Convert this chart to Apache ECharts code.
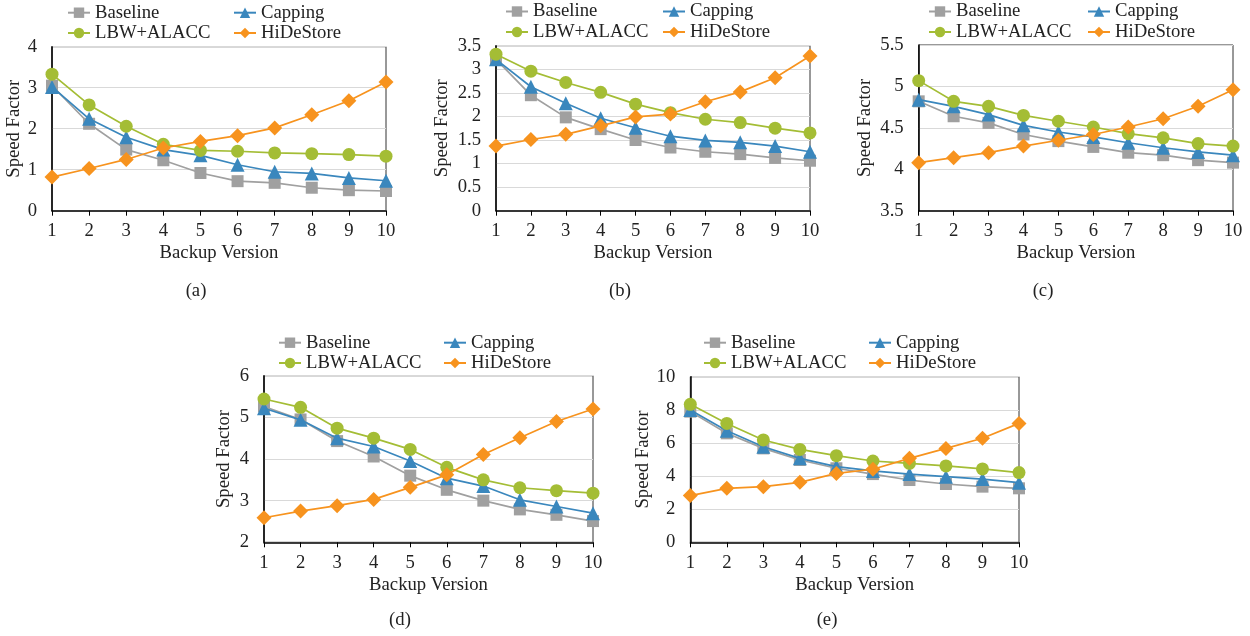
<!DOCTYPE html>
<html>
<head>
<meta charset="utf-8">
<script src="https://cdn.jsdelivr.net/npm/echarts@6/dist/echarts.min.js"></script>
<style>
  html, body { margin: 0; padding: 0; background: #fff; }
  #chart { width: 1250px; height: 636px; }
</style>
</head>
<body>
<div id="chart"></div>
<script>
// ---------------- data ----------------
const versions = ['1', '2', '3', '4', '5', '6', '7', '8', '9', '10'];
const seriesNames = ['Baseline', 'Capping', 'LBW+ALACC', 'HiDeStore'];
const panelLabels = ['(a)', '(b)', '(c)', '(d)', '(e)'];
const xAxisTitle = 'Backup Version';
const yAxisTitle = 'Speed Factor';

// (a)
const baselineA = [3.05, 2.12, 1.49, 1.23, 0.92, 0.72, 0.68, 0.56, 0.50, 0.48];
const cappingA  = [3.02, 2.24, 1.79, 1.49, 1.35, 1.12, 0.95, 0.91, 0.80, 0.73];
const lbwA      = [3.33, 2.58, 2.06, 1.62, 1.47, 1.45, 1.41, 1.39, 1.37, 1.33];
const hideA     = [0.82, 1.03, 1.25, 1.53, 1.69, 1.83, 2.02, 2.34, 2.68, 3.14];
const yRangeA   = [0, 4, 1];

// (b)
const baselineB = [3.21, 2.45, 1.98, 1.73, 1.50, 1.34, 1.25, 1.20, 1.12, 1.06];
const cappingB  = [3.21, 2.63, 2.28, 1.96, 1.76, 1.58, 1.49, 1.45, 1.37, 1.25];
const lbwB      = [3.32, 2.96, 2.72, 2.51, 2.26, 2.08, 1.94, 1.87, 1.75, 1.65];
const hideB     = [1.37, 1.51, 1.62, 1.80, 1.99, 2.05, 2.31, 2.52, 2.82, 3.28];
const yRangeB   = [0, 3.5, 0.5];

// (c)
const baselineC = [4.82, 4.64, 4.56, 4.42, 4.34, 4.27, 4.20, 4.17, 4.11, 4.08];
const cappingC  = [4.84, 4.76, 4.66, 4.53, 4.45, 4.39, 4.32, 4.26, 4.21, 4.17];
const lbwC      = [5.07, 4.82, 4.76, 4.65, 4.58, 4.51, 4.43, 4.38, 4.31, 4.28];
const hideC     = [4.08, 4.14, 4.20, 4.28, 4.35, 4.42, 4.51, 4.61, 4.76, 4.96];
const yRangeC   = [3.5, 5.5, 0.5];

// (d)
const baselineD = [5.26, 4.95, 4.43, 4.06, 3.60, 3.26, 3.00, 2.79, 2.66, 2.51];
const cappingD  = [5.22, 4.94, 4.50, 4.30, 3.95, 3.54, 3.35, 3.02, 2.86, 2.70];
const lbwD      = [5.44, 5.24, 4.74, 4.50, 4.23, 3.80, 3.50, 3.31, 3.24, 3.18];
const hideD     = [2.59, 2.75, 2.88, 3.03, 3.32, 3.62, 4.11, 4.51, 4.90, 5.20];
const yRangeD   = [2, 6, 1];

// (e)
const baselineE = [7.89, 6.58, 5.67, 4.97, 4.47, 4.12, 3.76, 3.52, 3.36, 3.26];
const cappingE  = [7.99, 6.74, 5.77, 5.07, 4.57, 4.31, 4.12, 3.96, 3.82, 3.60];
const lbwE      = [8.33, 7.18, 6.18, 5.61, 5.23, 4.91, 4.77, 4.61, 4.43, 4.21];
const hideE     = [2.82, 3.26, 3.36, 3.62, 4.16, 4.41, 5.07, 5.67, 6.28, 7.18];
const yRangeE   = [0, 10, 2];

const panelData = [
  [baselineA, cappingA, lbwA, hideA],
  [baselineB, cappingB, lbwB, hideB],
  [baselineC, cappingC, lbwC, hideC],
  [baselineD, cappingD, lbwD, hideD],
  [baselineE, cappingE, lbwE, hideE]
];
const panelRanges = [yRangeA, yRangeB, yRangeC, yRangeD, yRangeE];

// ---------------- layout / style ----------------
const FONT = '"Liberation Serif", "Times New Roman", serif';
const FS = 18.7;
const TXT = '#222';
const styles = [
  { color: '#a0a0a0', symbol: 'rect',     size: 12 },
  { color: '#3a87bd', symbol: 'triangle', size: 14 },
  { color: '#a4bd35', symbol: 'circle',   size: 13 },
  { color: '#f7931e', symbol: 'diamond',  size: 15 }
];
const layout = [
  { grid: { left: 52,    top: 46.7,  width: 334,   height: 164 },   lx: [67, 233],  ly: [12.7, 33],  yGap: 25, cap: [196, 291] },
  { grid: { left: 496,   top: 45.7,  width: 314,   height: 165 },   lx: [505, 662], ly: [11.5, 32],  yGap: 44, cap: [620, 291] },
  { grid: { left: 918.7, top: 45,    width: 314.3, height: 165.7 }, lx: [928, 1087],ly: [11.5, 32],  yGap: 44, cap: [1043, 291] },
  { grid: { left: 264,   top: 375.7, width: 329,   height: 166.6 }, lx: [278, 443], ly: [342.7, 363],yGap: 30, cap: [400, 620] },
  { grid: { left: 690.3, top: 376.7, width: 328.7, height: 165.6 }, lx: [703, 868], ly: [342.7, 363],yGap: 32, cap: [827, 620] }
];

const grids = [], xAxes = [], yAxes = [], series = [], legends = [], graphics = [];
layout.forEach((L, p) => {
  grids.push(Object.assign({ show: true, borderColor: '#333', borderWidth: 1, containLabel: false }, L.grid));
  xAxes.push({
    type: 'category', gridIndex: p, data: versions, boundaryGap: false,
    name: xAxisTitle, nameLocation: 'middle', nameGap: 33,
    nameTextStyle: { fontFamily: FONT, fontSize: FS, color: TXT },
    axisLine: { lineStyle: { color: '#000', width: 1.5 } },
    axisTick: { show: true, length: 5, lineStyle: { color: '#000' } },
    axisLabel: { fontFamily: FONT, fontSize: FS, color: TXT, margin: 11, interval: 0 },
    splitLine: { show: false }
  });
  const r = panelRanges[p];
  yAxes.push({
    type: 'value', gridIndex: p, min: r[0], max: r[1], interval: r[2],
    name: yAxisTitle, nameLocation: 'middle', nameGap: L.yGap, nameRotate: 90,
    nameTextStyle: { fontFamily: FONT, fontSize: FS, color: TXT },
    axisLine: { show: true, lineStyle: { color: '#000', width: 1.5 } },
    axisTick: { show: false },
    axisLabel: { fontFamily: FONT, fontSize: FS, color: TXT, margin: 15 },
    splitLine: { show: true, lineStyle: { color: '#d9d9d9', width: 1 } }
  });
  seriesNames.forEach((name, k) => {
    const s = styles[k];
    series.push({
      type: 'line', name: name, xAxisIndex: p, yAxisIndex: p,
      data: panelData[p][k],
      symbol: s.symbol, symbolSize: s.size, showAllSymbol: true,
      lineStyle: { color: s.color, width: 1.7 },
      itemStyle: { color: s.color },
      z: 2 + k, animation: false
    });
    const col = k % 2, row = Math.floor(k / 2);
    legends.push({
      data: [name], left: L.lx[col], top: L.ly[row] - 9.5, padding: 0,
      itemWidth: 22, itemHeight: 13, itemGap: 0, selectedMode: false,
      textStyle: { fontFamily: FONT, fontSize: FS, color: TXT }
    });
  });
  graphics.push({
    type: 'text', x: L.cap[0], y: L.cap[1],
    style: { text: panelLabels[p], font: FS + 'px ' + FONT, fill: TXT, textAlign: 'center', textVerticalAlign: 'middle' }
  });
});

const chart = echarts.init(document.getElementById('chart'), null, { renderer: 'canvas' });
chart.setOption({
  backgroundColor: '#fff',
  animation: false,
  grid: grids, xAxis: xAxes, yAxis: yAxes, series: series, legend: legends,
  graphic: graphics
});
</script>
</body>
</html>
